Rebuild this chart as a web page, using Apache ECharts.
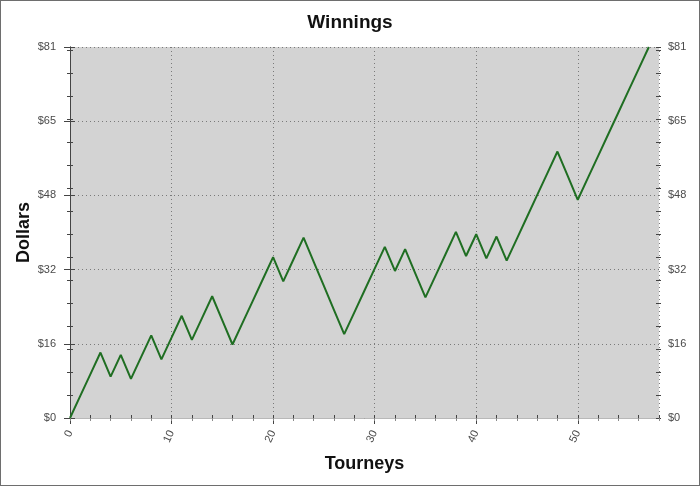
<!DOCTYPE html>
<html>
<head>
<meta charset="utf-8">
<script src="https://cdn.jsdelivr.net/npm/echarts@6/dist/echarts.min.js"></script>
<style>
html,body{margin:0;padding:0;background:#fff;}
#wrap{width:700px;height:486px;box-sizing:border-box;border:1px solid #6e6e6e;position:relative;}
#chart{position:absolute;left:-1px;top:-1px;width:700px;height:486px;}
</style>
</head>
<body>
<div id="wrap"><div id="chart"></div></div>
<script>
var tourneys = [0,1,2,3,4,5,6,7,8,9,10,11,12,13,14,15,16,17,18,19,20,21,22,23,24,25,26,27,28,29,30,31,32,33,34,35,36,37,38,39,40,41,42,43,44,45,46,47,48,49,50,51,52,53,54,55,56,57];
var winnings = [0,4.75,9.5,14.25,9.0,13.75,8.5,13.25,18.0,12.75,17.5,22.25,17.0,21.75,26.5,21.25,16.0,20.75,25.5,30.25,35.0,29.75,34.5,39.25,34.0,28.75,23.5,18.25,23.0,27.75,32.5,37.25,32.0,36.75,31.5,26.25,31.0,35.75,40.5,35.25,40.0,34.75,39.5,34.25,39.0,43.75,48.5,53.25,58.0,52.75,47.5,52.25,57.0,61.75,66.5,71.25,76.0,80.75];
var yMax = 80.75;
var yStep = 16.15;
var yMinorStep = 5;
var xMax = 58;
var xStep = 10;
var xMinorStep = 2;

var pts = tourneys.map(function(t, i){ return [t, winnings[i]]; });
var labelFont = {fontFamily:'Liberation Sans, Arial, sans-serif', fontSize:11, color:'#4a4a4a'};
var axisDark = '#444';

var chart = echarts.init(document.getElementById('chart'));
chart.setOption({
  animation:false,
  title:{text:'Winnings', left:'center', top:8, textStyle:{fontFamily:'Liberation Sans, Arial, sans-serif', fontSize:19, fontWeight:'bold', color:'#111'}},
  grid:{left:70, right:41, top:47, bottom:68, show:true, backgroundColor:'#d3d3d3', borderWidth:0},
  xAxis:[
    {type:'value', position:'bottom', min:0, max:xMax, interval:xStep,
     name:'Tourneys', nameLocation:'middle', nameGap:37, nameMoveOverlap:false,
     nameTextStyle:{fontFamily:'Liberation Sans, Arial, sans-serif', fontSize:18, fontWeight:'bold', color:'#111'},
     axisLine:{show:true, lineStyle:{color:axisDark, width:1}},
     axisTick:{show:true, length:6, lineStyle:{color:axisDark}},
     axisLabel:Object.assign({rotate:65, margin:13, showMaxLabel:false}, labelFont),
     splitLine:{show:true, lineStyle:{color:'#7a7a7a', type:[1,3], width:1}}},
    {type:'value', position:'bottom', offset:-3, min:0, max:xMax, interval:xMinorStep,
     axisLine:{show:false}, axisTick:{show:true, length:6, lineStyle:{color:axisDark}},
     axisLabel:{show:false}, splitLine:{show:false}},
    {type:'value', position:'top', min:0, max:xMax, interval:xMinorStep,
     axisLine:{show:true, lineStyle:{color:'#b8b8b8'}}, axisTick:{show:true, inside:true, length:3, lineStyle:{color:'#8a8a8a'}},
     axisLabel:{show:false}, splitLine:{show:false}}
  ],
  yAxis:[
    {type:'value', position:'left', min:0, max:yMax, interval:yStep,
     name:'Dollars', nameLocation:'middle', nameGap:37, nameMoveOverlap:false,
     nameTextStyle:{fontFamily:'Liberation Sans, Arial, sans-serif', fontSize:18, fontWeight:'bold', color:'#111'},
     axisLine:{show:true, lineStyle:{color:axisDark}},
     axisTick:{show:true, length:6, lineStyle:{color:axisDark}},
     axisLabel:Object.assign({margin:14, formatter:function(v){return '$'+Math.round(v);}}, labelFont),
     splitLine:{show:true, lineStyle:{color:'#7a7a7a', type:[1,3], width:1}}},
    {type:'value', position:'left', offset:-3, min:0, max:yMax, interval:yMinorStep,
     axisLine:{show:false}, axisTick:{show:true, length:6, lineStyle:{color:axisDark}},
     axisLabel:{show:false}, splitLine:{show:false}},
    {type:'value', position:'right', min:0, max:yMax, interval:yStep,
     axisLine:{show:true, lineStyle:{color:axisDark}},
     axisTick:{show:true, length:5, lineStyle:{color:axisDark}},
     axisLabel:Object.assign({margin:9, formatter:function(v){return '$'+Math.round(v);}}, labelFont),
     splitLine:{show:false}},
    {type:'value', position:'right', offset:-3, min:0, max:yMax, interval:yMinorStep,
     axisLine:{show:false}, axisTick:{show:true, length:5, lineStyle:{color:axisDark}},
     axisLabel:{show:false}, splitLine:{show:false}}
  ],
  series:[{type:'line', xAxisIndex:0, yAxisIndex:0, data:pts, showSymbol:false, symbol:'none',
    lineStyle:{color:'#1f6e22', width:2}}]
});
</script>
</body>
</html>
